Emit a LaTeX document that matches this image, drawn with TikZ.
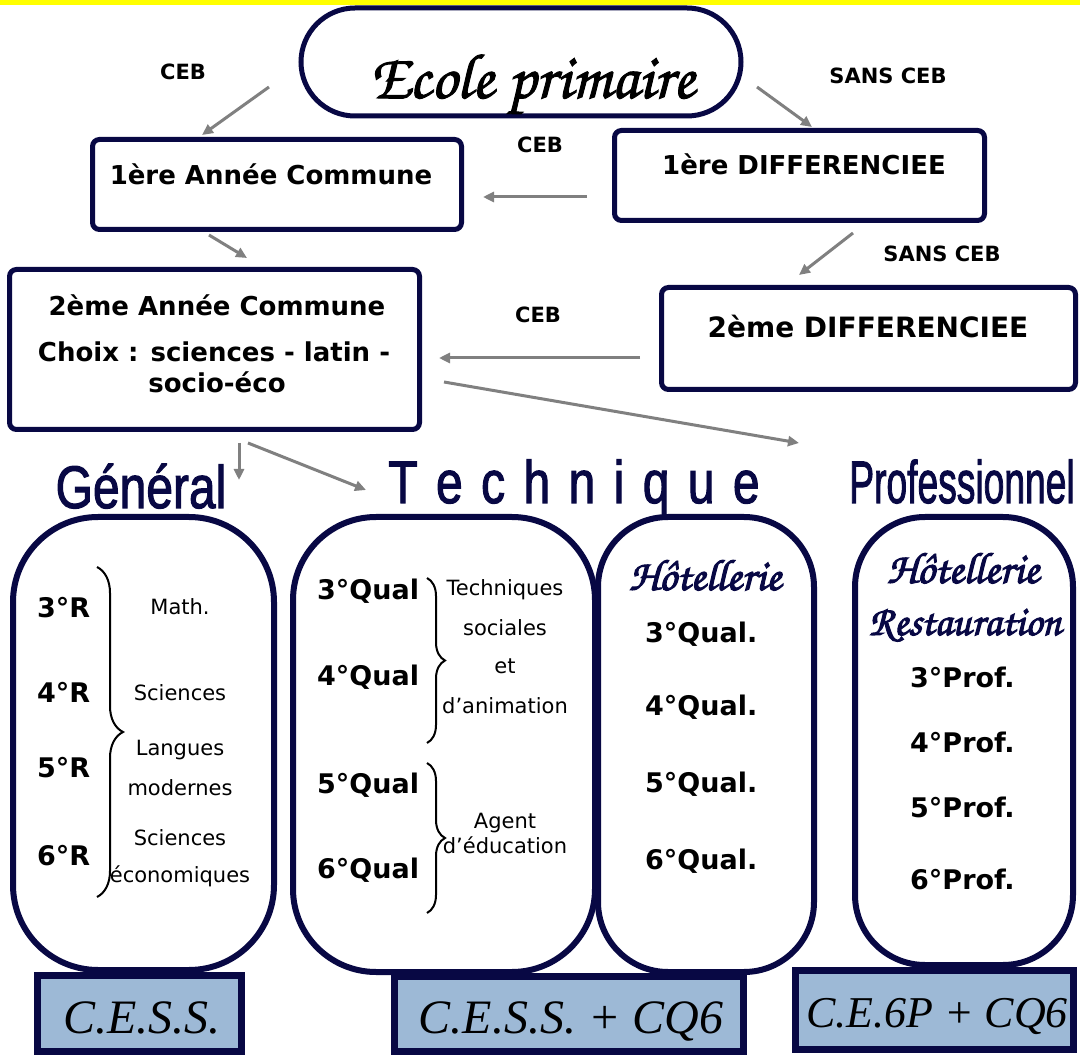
\documentclass[tikz,border=0pt]{standalone}
\usepackage{fontspec}
\setmainfont{DejaVu Sans}
\newfontfamily\titlefont[FakeBold=2]{Liberation Sans}
\newfontfamily\chorus[FakeBold=1.5]{TeX Gyre Chorus}
\newfontfamily\chorusb[FakeBold=2.5]{TeX Gyre Chorus}
\newfontfamily\certfont{Liberation Serif}
\usetikzlibrary{arrows.meta,decorations.pathreplacing}
\definecolor{myNavy}{RGB}{8,8,68}
\definecolor{certBlue}{RGB}{157,185,214}
\definecolor{arrGray}{RGB}{128,128,128}
\definecolor{bandYellow}{RGB}{255,255,0}
\begin{document}
\begin{tikzpicture}[x=1pt,y=-1pt,
  box/.style={draw=myNavy, line width=5pt, rounded corners=7pt, fill=white},
  pill/.style={draw=myNavy, line width=6pt, fill=white},
  cert/.style={draw=myNavy, line width=7pt, fill=certBlue},
  arr/.style={draw=arrGray, line width=3pt, -{Triangle[length=11pt,width=10pt]}},
  txt/.style={anchor=base, inner sep=0pt},
  lbl/.style={txt, font=\bfseries\fontsize{21}{21}\selectfont},
  head/.style={txt, font=\bfseries\fontsize{26}{26}\selectfont},
  grade/.style={txt, anchor=base west, font=\bfseries\fontsize{27}{27}\selectfont},
  small/.style={txt, font=\fontsize{21}{21}\selectfont},
  ttl/.style={txt, text=myNavy, font=\titlefont\fontsize{60}{60}\selectfont},
  hot/.style={txt, text=myNavy, font=\chorusb\fontsize{44}{44}\selectfont},
  certt/.style={txt, font=\certfont\itshape\fontsize{48}{48}\selectfont},
  brc/.style={draw=black, line width=2pt, decorate}
]
\useasboundingbox (0,0) rectangle (1080,1056);
\fill[white] (0,0) rectangle (1080,1056);
\fill[bandYellow] (0,0) rectangle (1080,5);

% ---- top part ----
\node[draw=myNavy, line width=5pt, rounded corners=54pt, fill=white,
      minimum width=440pt, minimum height=108pt] (ecole) at (521,62) {};
\node[txt, font=\chorus\fontsize{64}{64}\selectfont] (ecolet) at (532,98) {Ecole primaire};

\node[box, minimum width=369pt, minimum height=90pt] (ann1) at (277,184.5) {};
\node[head] (ann1t) at (271,185) {1ère Année Commune};

\node[box, minimum width=370pt, minimum height=90pt] (diff1) at (799.5,175.5) {};
\node[head] (diff1t) at (804,175) {1ère DIFFERENCIEE};

\node[box, minimum width=410pt, minimum height=160pt] (ann2) at (214.5,349.5) {};
\node[head] (ann2a) at (217,316) {2ème Année Commune};
\node[head] (ann2b) at (214,362) {Choix : sciences - latin -};
\node[head] (ann2c) at (217,393) {socio-éco};

\node[box, minimum width=414pt, minimum height=102pt] (diff2) at (868.5,338.5) {};
\node[head, font=\bfseries\fontsize{28}{28}\selectfont] (diff2t) at (868,338) {2ème DIFFERENCIEE};

\node[lbl] (l1) at (183,80) {CEB};
\node[lbl] (l2) at (888,84) {SANS CEB};
\node[lbl] (l3) at (540,153) {CEB};
\node[lbl] (l4) at (942,262) {SANS CEB};
\node[lbl] (l5) at (538,323) {CEB};

% arrows
\coordinate (a1s) at (269,87);  \coordinate (a1e) at (202,135);
\coordinate (a2s) at (757,87);  \coordinate (a2e) at (812,127);
\coordinate (a3s) at (587,197); \coordinate (a3e) at (483,197);
\coordinate (a4s) at (209,235); \coordinate (a4e) at (247,258);
\coordinate (a5s) at (853,233); \coordinate (a5e) at (799,275);
\coordinate (a6s) at (640,358); \coordinate (a6e) at (439,358);
\coordinate (a7s) at (444,382); \coordinate (a7e) at (799,443);
\coordinate (a8s) at (239,443); \coordinate (a8e) at (239,480);
\coordinate (a9s) at (248,443); \coordinate (a9e) at (366,490);
\foreach \i in {1,...,9} { \draw[arr] (a\i s) -- (a\i e); }

% titles
\node[ttl] (tgen) at (141,508) {\scalebox{0.8}[1]{Général}};
\node[ttl] (ttech) at (574,503) {\scalebox{0.8}[1]{T\kern23pt e\kern23pt c\kern23pt h\kern23pt n\kern23pt i\kern23pt q\kern23pt u\kern23pt e}};
\node[ttl] (tprof) at (962,503) {\scalebox{0.62}[1]{Professionnel}};

% ---- pills ----
\node[pill, rounded corners=85pt, minimum width=261pt, minimum height=453pt] (pgen) at (143.5,743.5) {};
\node[pill, rounded corners=83pt, minimum width=302pt, minimum height=455pt] (ptech) at (444,744.5) {};
\node[pill, rounded corners=70pt, minimum width=216pt, minimum height=455pt] (photel) at (706,744.5) {};
\node[pill, rounded corners=70pt, minimum width=218pt, minimum height=448pt] (pprof) at (964,741) {};

% Général
\node[grade] (g3) at (37,617) {3°R};
\node[grade] (g4) at (37,702) {4°R};
\node[grade] (g5) at (37,777) {5°R};
\node[grade] (g6) at (37,865) {6°R};
\draw[brc, decoration={brace, amplitude=26pt}] (97,567) -- (97,897);
\node[small] (gm1) at (180,615) {Math.};
\node[small] (gm2) at (180,700) {Sciences};
\node[small] (gm3) at (180,755) {Langues};
\node[small] (gm4) at (180,795) {modernes};
\node[small] (gm5) at (180,845) {Sciences};
\node[small] (gm6) at (180,882) {économiques};

% Technique
\node[grade] (t3) at (317,600) {3°Qual};
\node[grade] (t4) at (317,685) {4°Qual};
\node[grade] (t5) at (317,793) {5°Qual};
\node[grade] (t6) at (317,878) {6°Qual};
\draw[brc, decoration={brace, amplitude=18pt}] (427,578) -- (427,743);
\draw[brc, decoration={brace, amplitude=18pt}] (427,763) -- (427,913);
\node[small] (tm1) at (505,595) {Techniques};
\node[small] (tm2) at (505,635) {sociales};
\node[small] (tm3) at (505,673) {et};
\node[small] (tm4) at (505,713) {d’animation};
\node[small] (tm5) at (505,828) {Agent};
\node[small] (tm6) at (505,853) {d’éducation};

% Hôtellerie
\node[hot] (hh) at (705,590) {Hôtellerie};
\node[grade] (h3) at (645,642) {3°Qual.};
\node[grade] (h4) at (645,715) {4°Qual.};
\node[grade] (h5) at (645,792) {5°Qual.};
\node[grade] (h6) at (645,869) {6°Qual.};

% Professionnel
\node[hot] (ph1) at (963,583) {Hôtellerie};
\node[hot, font=\chorusb\fontsize{42}{42}\selectfont] (ph2) at (965,635) {Restauration};
\node[grade] (p3) at (910,687) {3°Prof.};
\node[grade] (p4) at (910,752) {4°Prof.};
\node[grade] (p5) at (910,817) {5°Prof.};
\node[grade] (p6) at (910,889) {6°Prof.};

% ---- certificates ----
\node[cert, minimum width=204pt, minimum height=76pt] (c1) at (139.5,1013.5) {};
\node[certt] (c1t) at (142,1033) {C.E.S.S.};
\node[cert, minimum width=349pt, minimum height=75pt] (c2) at (569,1014) {};
\node[certt] (c2t) at (571,1033) {C.E.S.S. + CQ6};
\node[cert, minimum width=278pt, minimum height=79pt] (c3) at (934.5,1010) {};
\node[certt, font=\certfont\itshape\fontsize{44}{44}\selectfont] (c3t) at (937,1027) {C.E.6P + CQ6};
\end{tikzpicture}
\end{document}
